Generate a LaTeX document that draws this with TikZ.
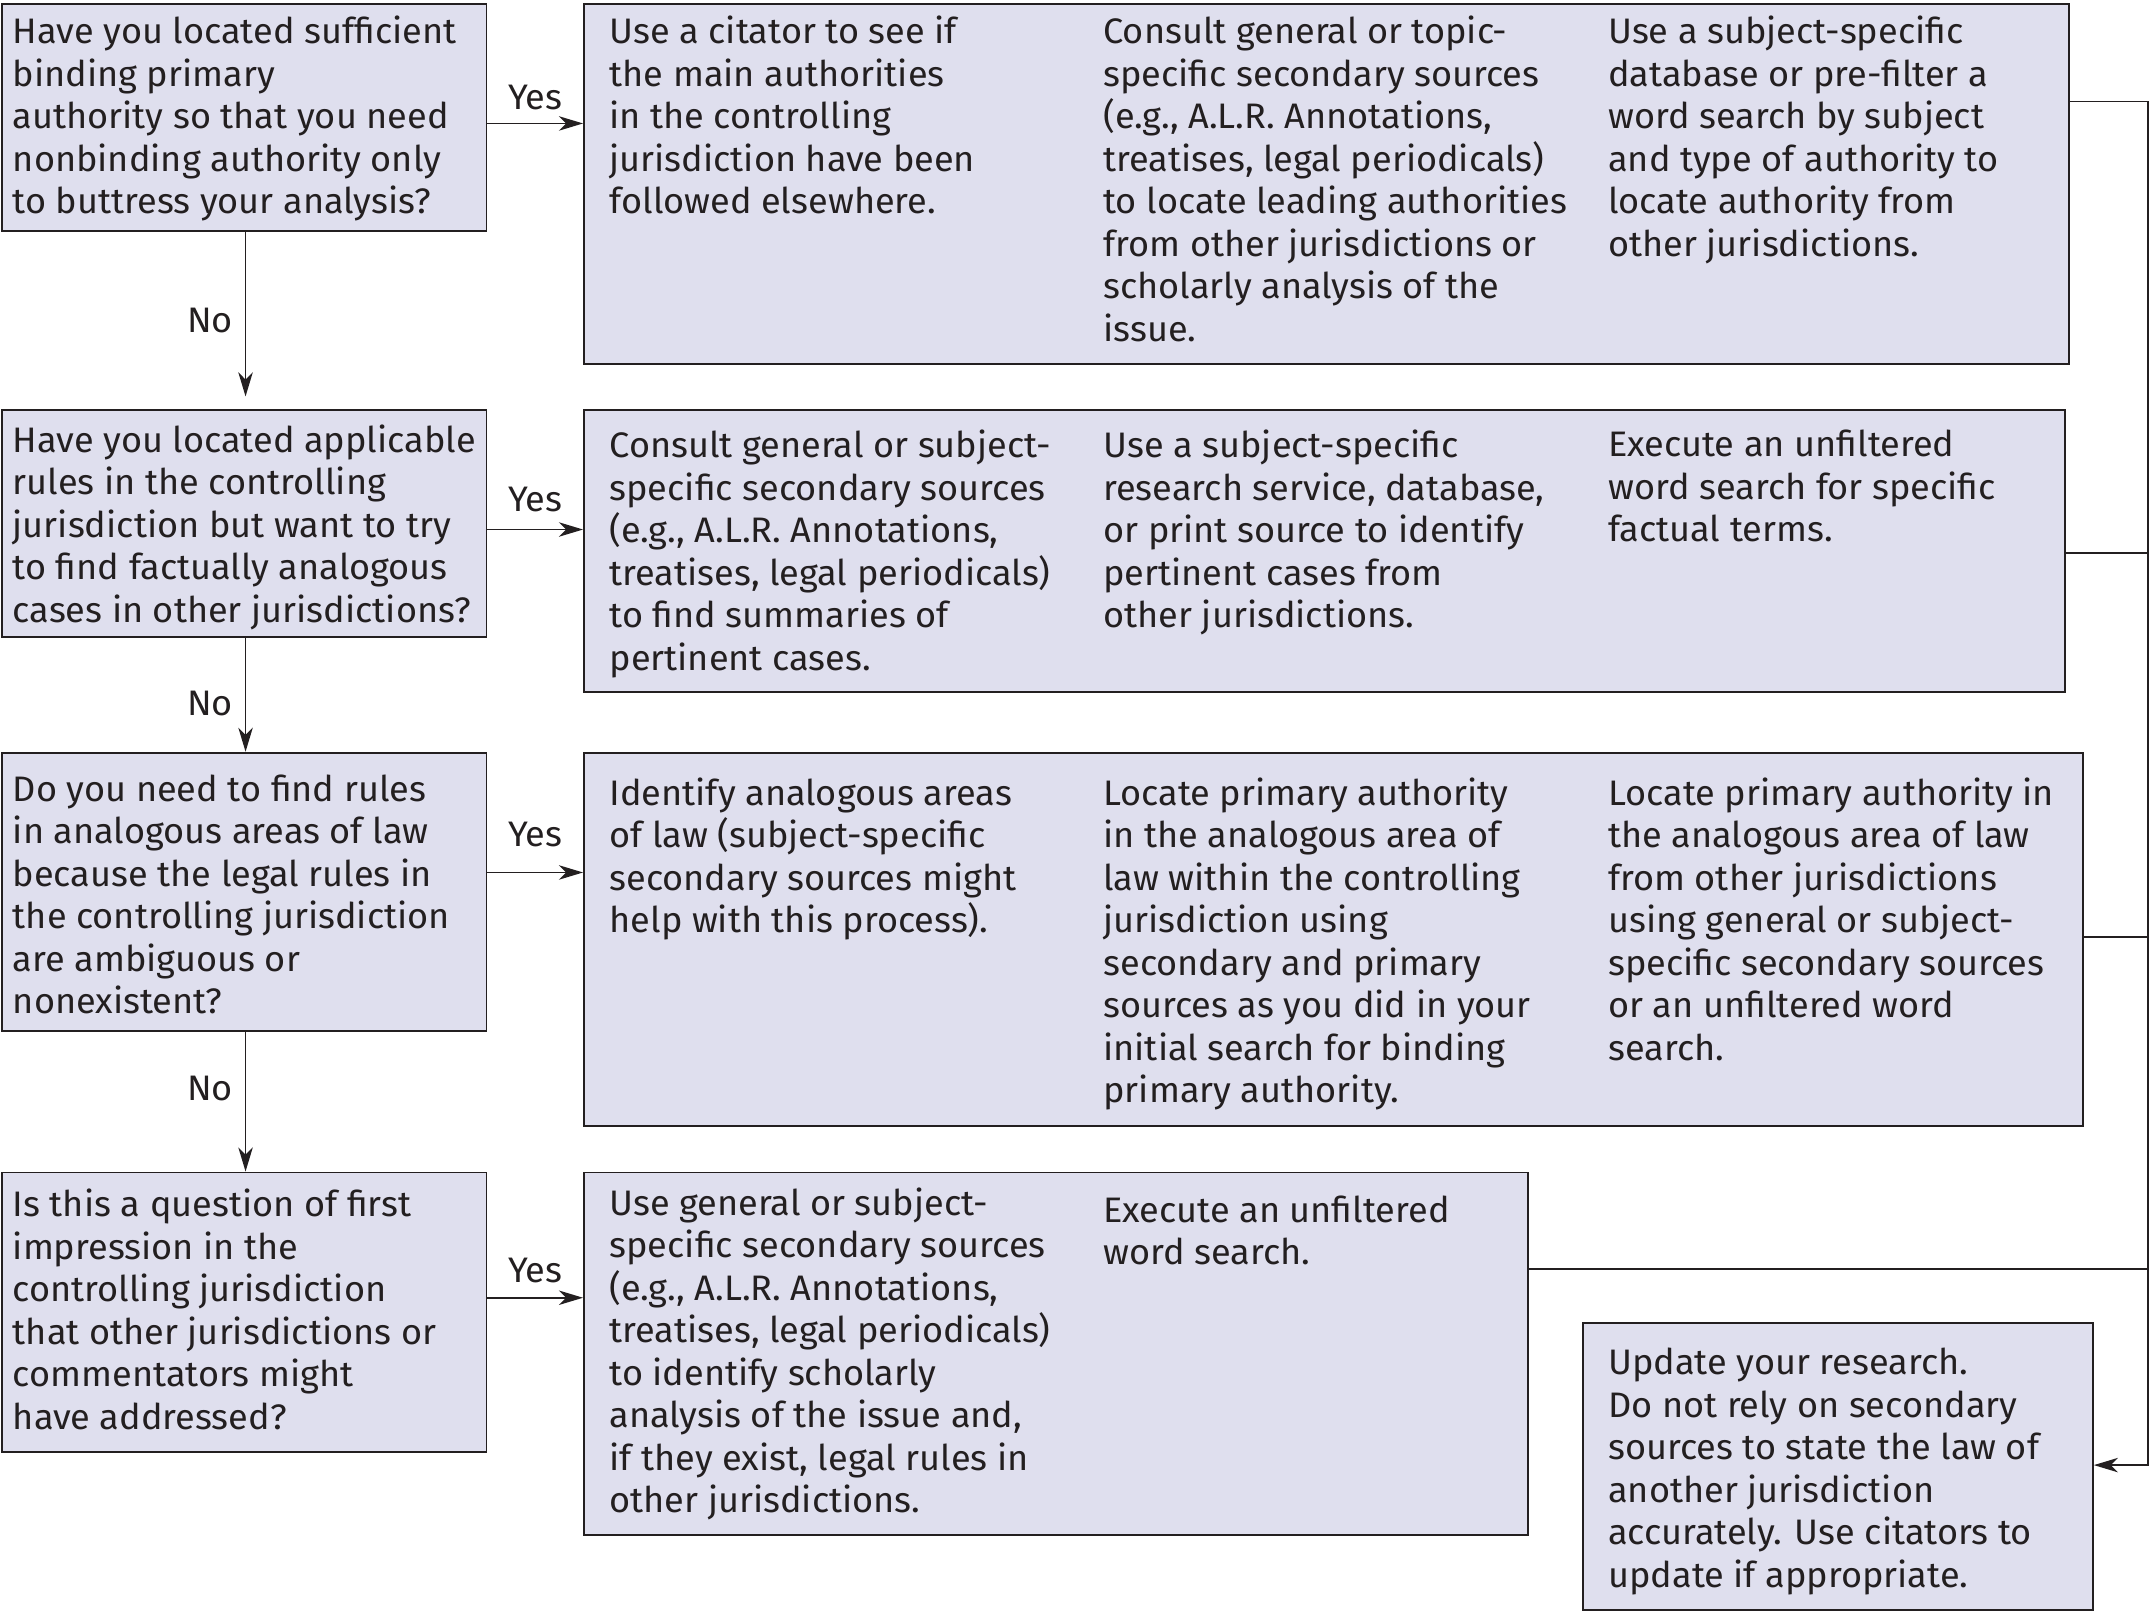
\documentclass[tikz,border=0pt]{standalone}
\usepackage{fontspec}
\setmainfont[FakeStretch=1.02]{Fira Sans}
\usetikzlibrary{arrows.meta}
\definecolor{boxfill}{HTML}{DFDFEE}
\definecolor{ink}{HTML}{231F20}

\begin{document}
\begin{tikzpicture}[x=0.02cm, y=-0.02cm,
        box/.style={draw=ink, line width=0.8pt, fill=boxfill, anchor=north west, inner sep=0pt},
        txt/.style={anchor=north west, yshift=11.2pt, align=left, inner sep=0pt, text=ink,
            font=\fontsize{14.7}{17.64}\selectfont, execute at begin node={\strut}},
        lbl/.style={inner sep=0pt, text=ink, font=\fontsize{14.7}{17.64}\selectfont},
        arr/.style={draw=ink, line width=0.7pt, -{Stealth[length=10pt, width=6pt, inset=3pt]}},
        link/.style={draw=ink, line width=0.7pt}]
        \useasboundingbox (0,0) rectangle (1568,1175);

        \node[box, minimum width=7.06cm, minimum height=3.32cm] (q1) at (1,2) {};
        \node[box, minimum width=7.06cm, minimum height=3.32cm] (q2) at (1,298) {};
        \node[box, minimum width=7.06cm, minimum height=4.06cm] (q3) at (1,548) {};
        \node[box, minimum width=7.06cm, minimum height=4.08cm] (q4) at (1,854) {};
        \node[box, minimum width=21.66cm, minimum height=5.26cm] (r1) at (425,2) {};
        \node[box, minimum width=21.6cm, minimum height=4.12cm] (r2) at (425,298) {};
        \node[box, minimum width=21.86cm, minimum height=5.44cm] (r3) at (425,548) {};
        \node[box, minimum width=13.76cm, minimum height=5.28cm] (r4) at (425,854) {};
        \node[box, minimum width=7.44cm, minimum height=4.18cm] (upd) at (1153,964) {};

        \node[txt] (q1t) at (9,31) {Have you located sufficient\\binding primary\\authority so that you need\\nonbinding authority only\\to buttress your analysis?};
        \node[txt] (q2t) at (9,329) {Have you located applicable\\rules in the controlling\\jurisdiction but want to try\\to find factually analogous\\cases in other jurisdictions?};
        \node[txt] (q3t) at (9,584) {Do you need to find rules\\in analogous areas of law\\because the legal rules in\\the controlling jurisdiction\\are ambiguous or\\nonexistent?};
        \node[txt] (q4t) at (9,886) {Is this a question of first\\impression in the\\controlling jurisdiction\\that other jurisdictions or\\commentators might\\have addressed?};

        \node[txt] (r1a) at (444,31) {Use a citator to see if\\the main authorities\\in the controlling\\jurisdiction have been\\followed elsewhere.};
        \node[txt] (r1b) at (804,31) {Consult general or topic-\\specific secondary sources\\(e.g., A.L.R. Annotations,\\treatises, legal periodicals)\\to locate leading authorities\\from other jurisdictions or\\scholarly analysis of the\\issue.};
        \node[txt] (r1c) at (1172,31) {Use a subject-specific\\database or pre-filter a\\word search by subject\\and type of authority to\\locate authority from\\other jurisdictions.};

        \node[txt] (r2a) at (444,333) {Consult general or subject-\\specific secondary sources\\(e.g., A.L.R. Annotations,\\treatises, legal periodicals)\\to find summaries of\\pertinent cases.};
        \node[txt] (r2b) at (804,333) {Use a subject-specific\\research service, database,\\or print source to identify\\pertinent cases from\\other jurisdictions.};
        \node[txt] (r2c) at (1172,333) {Execute an unfiltered\\word search for specific\\factual terms.};

        \node[txt] (r3a) at (444,586) {Identify analogous areas\\of law (subject-specific\\secondary sources might\\help with this process).};
        \node[txt] (r3b) at (804,586) {Locate primary authority\\in the analogous area of\\law within the controlling\\jurisdiction using\\secondary and primary\\sources as you did in your\\initial search for binding\\primary authority.};
        \node[txt] (r3c) at (1172,586) {Locate primary authority in\\the analogous area of law\\from other jurisdictions\\using general or subject-\\specific secondary sources\\or an unfiltered word\\search.};

        \node[txt] (r4a) at (444,885) {Use general or subject-\\specific secondary sources\\(e.g., A.L.R. Annotations,\\treatises, legal periodicals)\\to identify scholarly\\analysis of the issue and,\\if they exist, legal rules in\\other jurisdictions.};
        \node[txt] (r4b) at (804,891) {Execute an unfiltered\\word search.};

        \node[txt] (updt) at (1172,1002) {Update your research.\\Do not rely on secondary\\sources to state the law of\\another jurisdiction\\accurately. Use citators to\\update if appropriate.};

        \draw[arr] (q1.east |- 0,90) -- (r1.west |- 0,90) node[lbl, midway, above=0.19cm] {Yes};
        \draw[arr] (q2.east |- 0,386) -- (r2.west |- 0,386) node[lbl, midway, above=0.25cm] {Yes};
        \draw[arr] (q3.east |- 0,636) -- (r3.west |- 0,636) node[lbl, midway, above=0.36cm] {Yes};
        \draw[arr] (q4.east |- 0,946) -- (r4.west |- 0,946) node[lbl, midway, above=0.2cm] {Yes};

        \draw[arr] (q1.south -| 179,0) -- (179,289) node[lbl, pos=0.537, left=0.17cm] {No};
        \draw[arr] (q2.south -| 179,0) -- (q3.north -| 179,0) node[lbl, pos=0.571, left=0.17cm] {No};
        \draw[arr] (q3.south -| 179,0) -- (q4.north -| 179,0) node[lbl, pos=0.408, left=0.17cm] {No};

        \coordinate (bus) at (1566,74);
        \draw[arr] (r1.east |- bus) -- (bus) -- (bus |- 0,1068) -- (upd.east |- 0,1068);
        \draw[link] (r2.east |- 0,403) -- (bus |- 0,403);
        \draw[link] (r3.east |- 0,683) -- (bus |- 0,683);
        \draw[link] (r4.east |- 0,925) -- (bus |- 0,925);
    \end{tikzpicture}
\end{document}
